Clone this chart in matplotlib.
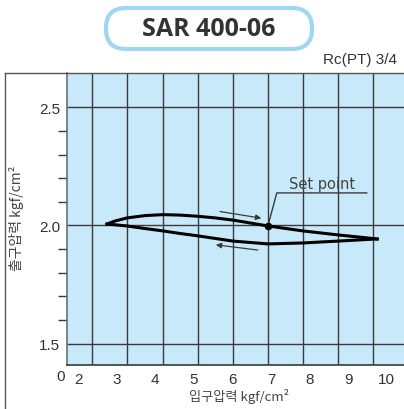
import matplotlib
matplotlib.use("Agg")
import matplotlib.pyplot as plt
from matplotlib.patches import FancyBboxPatch
from matplotlib.lines import Line2D

plt.rcParams['font.family'] = ['Noto Sans CJK KR', 'DejaVu Sans']

TITLE = "SAR 400-06"
PORT = "Rc(PT) 3/4"
X_LABEL = "입구압력 kgf/cm²"
Y_LABEL = "출구압력 kgf/cm²"

# x values read against the tick labels
X_TICKS = [2, 3, 4, 5, 6, 7, 8, 9, 10]
X_TICK_LABELS = ["2", "3", "4", "5", "6", "7", "8", "9", "10"]
GRID_X = [2.36, 3.27, 4.20, 5.11, 6.01, 6.92, 7.83, 8.74, 9.64]
Y_MAJOR = [1.5, 2.0, 2.5]
Y_MINOR = [1.6, 1.7, 1.8, 1.9, 2.1, 2.2, 2.3, 2.4]

# pressure rising (upper branch) and falling (lower branch)
UP_X = [2.75, 2.96, 3.27, 3.74, 4.20, 4.65, 5.11, 5.56, 6.01, 6.92, 7.83, 8.74, 9.75]
UP_Y = [2.006, 2.019, 2.032, 2.042, 2.046, 2.044, 2.039, 2.032, 2.023, 1.998, 1.977, 1.960, 1.943]
DOWN_X = [2.75, 2.96, 3.27, 3.74, 4.20, 4.65, 5.11, 5.56, 6.01, 6.92, 7.83, 8.74, 9.75]
DOWN_Y = [2.006, 2.003, 1.998, 1.987, 1.977, 1.966, 1.956, 1.945, 1.934, 1.922, 1.926, 1.934, 1.943]
SET_X, SET_Y = 6.92, 1.998

BLUE = "#c8e9f9"
DARK = "#3a3a3a"
TEXT = "#333333"
NUM_FONT = ["Liberation Sans", "DejaVu Sans"]

fig = plt.figure(figsize=(4.04, 4.10), dpi=100)
ax = fig.add_axes([67 / 404, 1 - 366 / 410, 337 / 404, 292 / 410])
ax.set_facecolor(BLUE)
ax.set_xlim(1.715, 10.446)
ax.set_ylim(1.409, 2.646)

for gx in GRID_X:
    ax.axvline(gx, color=DARK, lw=1.0, zorder=1)
for gy in Y_MAJOR:
    ax.axhline(gy, color=DARK, lw=1.0, zorder=1)

for s in ["top", "right"]:
    ax.spines[s].set_visible(False)
ax.spines["left"].set_color("#66737c")
ax.spines["left"].set_linewidth(1.2)
ax.spines["bottom"].set_color(DARK)
ax.spines["bottom"].set_linewidth(1.2)

ax.set_xticks(X_TICKS)
ax.set_xticklabels(X_TICK_LABELS, family=NUM_FONT)
ax.set_yticks(Y_MAJOR)
ax.set_yticklabels([f"{v:.1f}" for v in Y_MAJOR], family=NUM_FONT)
ax.set_yticks(Y_MINOR, minor=True)
ax.tick_params(axis="x", length=0, pad=5, labelsize=11, labelcolor=TEXT)
ax.tick_params(axis="y", which="major", length=0, pad=5, labelsize=11, labelcolor=TEXT)
ax.tick_params(axis="y", which="minor", length=6.5, width=1.0, color=DARK)

ax.plot(UP_X, UP_Y, color="black", lw=2.2, solid_joinstyle="round", zorder=3)
ax.plot(DOWN_X, DOWN_Y, color="black", lw=2.2, solid_joinstyle="round", zorder=3)
ax.plot([SET_X], [SET_Y], "o", color="black", ms=4.5, zorder=4)

# direction arrows
ax.annotate("", xy=(6.75, 2.031), xytext=(5.68, 2.059),
            arrowprops=dict(arrowstyle="-|>", color=DARK, lw=0.9,
                            mutation_scale=8, shrinkA=0, shrinkB=0))
ax.annotate("", xy=(5.57, 1.918), xytext=(6.66, 1.896),
            arrowprops=dict(arrowstyle="-|>", color=DARK, lw=0.9,
                            mutation_scale=8, shrinkA=0, shrinkB=0))

# set point callout
ax.plot([SET_X, 7.15, 9.48], [SET_Y, 2.138, 2.138], color=DARK, lw=1.0, zorder=3)
ax.text(8.32, 2.145, "Set point", ha="center", va="bottom", fontsize=10.5,
        color="#444444", family=["DejaVu Sans"])

ax.text(1.56, 1.392, "0", ha="center", va="top", fontsize=11, color=TEXT,
        family=NUM_FONT, clip_on=False)

ax.set_xlabel(X_LABEL, fontsize=9.5, color="#444444", labelpad=0)
ax.xaxis.set_label_coords((239 - 67) / 337, -(389 - 366) / 292)
ax.set_ylabel(Y_LABEL, fontsize=10, color="#444444")
ax.yaxis.set_label_coords(-(67 - 24) / 337, (366 - 218) / 292)

# outer frame
fig.add_artist(Line2D([5 / 404, 5 / 404], [0, 1 - 74 / 410], color="#555555", lw=1.0))
fig.add_artist(Line2D([5 / 404, 1], [1 - 74 / 410, 1 - 74 / 410], color="#555555", lw=1.0))

# title badge
badge = FancyBboxPatch((1.06, 3.60), 2.06, 0.41,
                       boxstyle="round,pad=0,rounding_size=0.2",
                       transform=fig.dpi_scale_trans, facecolor="white",
                       edgecolor="#9fd7f2", lw=3)
fig.add_artist(badge)
fig.text(209 / 404, 1 - 29 / 410, TITLE, ha="center", va="center",
         fontsize=18, fontweight="bold", color=TEXT, family=["Open Sans", "DejaVu Sans"])
fig.text(397 / 404, 1 - 60 / 410, PORT, ha="right", va="center",
         fontsize=11, color=TEXT, family=NUM_FONT)

fig.savefig("out.png", dpi=100)
